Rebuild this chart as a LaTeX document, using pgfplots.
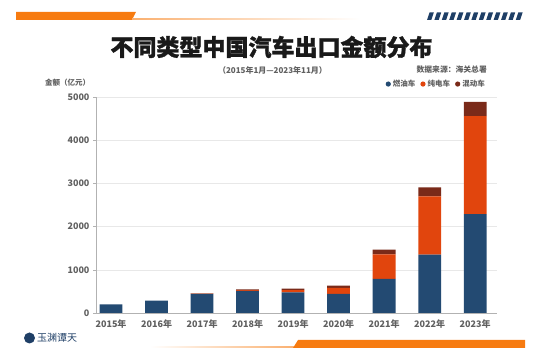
\documentclass[border=0pt]{standalone}
\usepackage{fontspec}
\setmainfont{Noto Sans CJK SC}
\newfontfamily\heavy{Noto Sans CJK SC}[BoldFeatures={FakeBold=1.3}]
\usepackage{pgfplots}
\pgfplotsset{compat=1.18}
\definecolor{fuel}{HTML}{234A72}
\definecolor{bev}{HTML}{E1450D}
\definecolor{hyb}{HTML}{7A2A19}
\definecolor{deco}{HTML}{F77B10}
\definecolor{navy}{HTML}{1F3F66}
\definecolor{txt}{HTML}{606060}
\begin{document}
\begin{tikzpicture}[x=1pt,y=1pt]
\path[use as bounding box] (0pt,0pt) rectangle (560pt,358pt);
% top decoration
\fill[deco] (16,346) -- (136,346) -- (132,338) -- (16,338) -- cycle;
\shade[left color=deco!60, right color=white] (132,338) rectangle (360,339);
\foreach \i in {0,...,12} {\fill[navy] ({427+7.4*\i},338) -- ++(4.3,0) -- ++(2.5,7.5) -- ++(-4.3,0) -- cycle;}
% bottom decoration
\shade[left color=white, right color=deco!60] (150,10) rectangle (294,11);
\fill[deco] (293,10) -- (525,10) -- (525,18) -- (298,18) -- cycle;
\pgfplotsset{mylegend/.style={legend image code/.code={\fill[##1] (0.1cm,0) circle (2.6pt);}}}
\begin{axis}[
  at={(96pt,45pt)}, anchor=south west, scale only axis,
  width=401pt, height=216pt,
  xmin=-0.33, xmax=8.48, ymin=0, ymax=5000,
  ybar stacked, bar width=0.5,
  xtick={0,...,8},
  xticklabels={2015年,2016年,2017年,2018年,2019年,2020年,2021年,2022年,2023年},
  ytick={0,1000,2000,3000,4000,5000},
  ymajorgrids, grid style={draw=black!9},
  axis x line*=bottom, axis y line*=left,
  axis line style={draw=black!30},
  xtick style={draw=none},
  ytick style={draw=black!30},
  tick align=outside, major tick length=3pt,
  tick label style={font=\fontsize{9}{10}\selectfont\bfseries, text=txt},
  /pgf/number format/assume math mode=true,
  /pgf/number format/1000 sep={},
  legend columns=3,
  legend style={at={(0.975,1.06)}, anchor=east, draw=none, fill=none, inner sep=0pt,
    font=\fontsize{7.5}{9}\selectfont\bfseries, text=txt,
    /tikz/every even column/.append style={column sep=3pt}},
  legend cell align=left,
]
\addplot[fill=fuel, draw=none, mylegend] coordinates {(0,200) (1,285) (2,440) (3,510) (4,475) (5,440) (6,790) (7,1350) (8,2290)};
\addplot[fill=bev, draw=none, mylegend] coordinates {(0,0) (1,0) (2,10) (3,22) (4,55) (5,140) (6,567) (7,1350) (8,2270)};
\addplot[fill=hyb, draw=none, mylegend] coordinates {(0,0) (1,0) (2,5) (3,12) (4,35) (5,55) (6,108) (7,210) (8,325)};
\legend{燃油车,纯电车,混动车}
\end{axis}
% texts
\node[font=\heavy\fontsize{23}{26}\selectfont\bfseries, text=black!90] at (271.5,311) {不同类型中国汽车出口金额分布};
\node[font=\fontsize{8}{9}\selectfont\bfseries, text=txt] at (272.5,288) {（2015年1月—2023年11月）};
\node[font=\fontsize{7.8}{9}\selectfont\bfseries, text=txt, anchor=east, inner sep=0pt] at (487,288) {数据来源：海关总署};
\node[font=\fontsize{7.5}{9}\selectfont\bfseries, text=txt, anchor=west, inner sep=0pt] at (45,275) {金额（亿元）};
% logo
\fill[navy] (29.5,20) circle (5.5);
\node[font=\fontsize{10}{11}\selectfont, text=navy, anchor=west, inner sep=0pt] at (37,20) {玉渊谭天};
\end{tikzpicture}
\end{document}
